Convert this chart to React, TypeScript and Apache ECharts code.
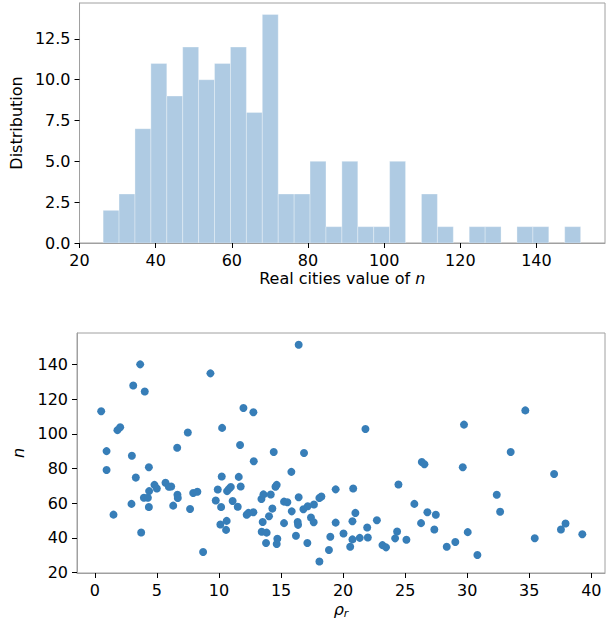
import React, { useEffect, useRef } from "react";
import * as echarts from "echarts";

// Histogram of n (30 equal bins from binStart to binEnd)
const histCounts = [2, 3, 7, 11, 9, 12, 10, 11, 12, 8, 14, 3, 3, 5, 1, 5, 1, 1, 5, 0, 3, 1, 0, 1, 1, 0, 1, 1, 0, 1];
const binStart = 26.2;
const binEnd = 151.6;
const histXTicks = [20, 40, 60, 80, 100, 120, 140];
const histYTicks = [0, 2.5, 5, 7.5, 10, 12.5];

// Scatter: rho_r vs n
const rho = [
  0.51, 3.65, 3.09, 4.02, 9.31, 1.82, 2.04, 0.94, 0.94, 2.98, 7.49, 6.63, 4.35, 3.3, 4.8, 4.99, 4.37, 3.95, 4.27, 2.95,
  4.35, 1.5, 3.73, 5.69, 5.96, 6.15, 6.65, 6.68, 6.31, 7.92, 8.26, 7.67, 8.72,
  16.42, 11.97, 12.77, 10.25, 11.7, 14.41, 16.85, 12.8, 15.83, 10.22, 11.59, 11.75, 9.9, 10.65, 10.8, 10.95, 14.55, 14.65,
  9.74, 10.17, 11.1, 11.51, 10.11, 10.62, 10.57, 12.23, 12.37, 12.77, 13.42, 13.58, 14.17, 14.3, 14.03, 13.52, 13.44, 13.84,
  13.79, 14.7, 14.65, 15.24, 15.51, 15.86, 16.42, 15.24, 16.34, 16.37, 16.2, 16.8, 17.15, 17.65,
  17.41, 17.63, 17.12, 18.09, 18.25, 19.4, 19.4, 18.97, 18.86, 18.09,
  21.8, 20.81, 20.99, 20.75, 20.03, 20.75, 20.57, 21.34, 21.99, 21.94, 22.72, 23.17, 23.46, 24.46, 24.35, 24.19, 25.1,
  25.74, 26.34, 26.55, 26.79, 27.47, 26.28, 27.35, 28.35, 29.04, 29.74, 29.64, 30.04,
  30.82, 34.68, 33.5, 37.0, 32.38, 32.65, 37.92, 37.55, 35.44, 39.27,
];
const nValues = [
  113.1, 140.2, 128.0, 124.5, 135.0, 102.2, 103.9, 90.1, 79.2, 87.4, 100.8, 92.0, 80.8, 74.8, 70.6, 68.5, 67.0, 63.2, 63.2, 59.6,
  57.8, 53.4, 43.1, 71.8, 69.5, 69.7, 64.9, 63.0, 58.6, 65.9, 66.6, 56.7, 31.8,
  151.5, 115.0, 112.5, 103.5, 93.6, 89.6, 89.0, 84.2, 78.1, 75.4, 75.2, 69.7, 67.9, 67.0, 68.3, 69.4, 69.5, 70.6,
  61.6, 57.8, 61.3, 58.0, 47.7, 49.8, 44.6, 53.3, 54.4, 54.8, 62.4, 65.1, 65.0, 56.9, 52.5, 49.2, 43.5, 43.0,
  37.0, 39.5, 36.4, 60.9, 60.6, 55.3, 63.4, 48.5, 49.2, 47.5, 41.2, 56.5, 58.2, 59.3,
  51.7, 49.0, 37.0, 63.0, 63.9, 68.0, 48.8, 40.6, 33.0, 26.3,
  102.9, 68.5, 54.4, 49.6, 42.5, 39.1, 34.9, 40.0, 40.2, 46.0, 50.2, 35.8, 34.5, 70.8, 43.7, 39.7, 38.9,
  59.6, 83.8, 82.5, 54.8, 53.3, 48.5, 44.8, 34.9, 37.6, 105.4, 80.8, 43.3,
  30.1, 113.6, 89.6, 76.9, 64.9, 55.1, 48.3, 44.8, 39.8, 42.1,
];
const scatterXTicks = [0, 5, 10, 15, 20, 25, 30, 35, 40];
const scatterYTicks = [20, 40, 60, 80, 100, 120, 140];

const FONT = "DejaVu Sans";
const SPINE = "#a0a0a0";

function axisCommon(ticks: number[], fmt?: (v: number) => string) {
  return {
    axisLine: { show: true, onZero: false, lineStyle: { color: SPINE, width: 1 } },
    axisTick: { show: true, length: 5, lineStyle: { color: "#000", width: 1 }, customValues: ticks },
    axisLabel: {
      customValues: ticks,
      color: "#000",
      fontSize: 16,
      fontFamily: FONT,
      margin: 9,
      formatter: fmt ? (v: number) => fmt(v) : (v: number) => String(v),
    },
    splitLine: { show: false },
    nameLocation: "middle" as const,
    z: 3,
  };
}

export default function App() {
  const ref = useRef<HTMLDivElement>(null);
  useEffect(() => {
    if (!ref.current) return;
    const chart = echarts.init(ref.current, undefined, { renderer: "svg" });
    const w = (binEnd - binStart) / histCounts.length;
    const histData = histCounts
      .map((c, i) => [binStart + i * w, binStart + (i + 1) * w, c])
      .filter((d) => d[2] > 0);
    const option: any = {
      animation: false,
      backgroundColor: "#fff",
      grid: [
        { left: 77, top: 3, width: 528, height: 240, show: true, borderColor: SPINE, borderWidth: 1, backgroundColor: "transparent" },
        { left: 77, top: 333, width: 528, height: 240, show: true, borderColor: SPINE, borderWidth: 1, backgroundColor: "transparent" },
      ],
      xAxis: [
        {
          type: "value",
          gridIndex: 0,
          min: 20,
          max: 158,
          ...axisCommon(histXTicks),
          name: "Real cities value of {i|n}",
          nameGap: 27,
          nameTextStyle: {
            color: "#000",
            fontSize: 16,
            fontFamily: FONT,
            rich: { i: { fontStyle: "italic", fontSize: 16, fontFamily: FONT, color: "#000" } },
          },
        },
        {
          type: "value",
          gridIndex: 1,
          min: -1.44,
          max: 41.1,
          ...axisCommon(scatterXTicks),
          name: "{a|ρ}{b|r}",
          nameGap: 27,
          nameTextStyle: {
            color: "#000",
            fontSize: 16,
            fontFamily: FONT,
            rich: {
              a: { fontStyle: "italic", fontSize: 16, fontFamily: FONT, color: "#000" },
              b: { fontStyle: "italic", fontSize: 11, fontFamily: FONT, color: "#000", padding: [8, 0, 0, 0] },
            },
          },
        },
      ],
      yAxis: [
        {
          type: "value",
          gridIndex: 0,
          min: 0,
          max: 14.7,
          ...axisCommon(histYTicks, (v) => v.toFixed(1)),
          name: "Distribution",
          nameGap: 49,
          nameTextStyle: { color: "#000", fontSize: 16, fontFamily: FONT },
        },
        {
          type: "value",
          gridIndex: 1,
          min: 19.7,
          max: 158.3,
          ...axisCommon(scatterYTicks),
          name: "{i|n}",
          nameGap: 46,
          nameTextStyle: {
            color: "#000",
            fontSize: 16,
            fontFamily: FONT,
            rich: { i: { fontStyle: "italic", fontSize: 16, fontFamily: FONT, color: "#000" } },
          },
        },
      ],
      series: [
        {
          type: "custom",
          xAxisIndex: 0,
          yAxisIndex: 0,
          data: histData,
          renderItem: (params: any, api: any) => {
            const p0 = api.coord([api.value(0), api.value(2)]);
            const p1 = api.coord([api.value(1), 0]);
            return {
              type: "rect",
              shape: { x: p0[0], y: p0[1], width: p1[0] - p0[0], height: p1[1] - p0[1] },
              style: { fill: "#afcbe3", stroke: "rgba(255,255,255,0.3)", lineWidth: 1 },
            };
          },
        },
        {
          type: "scatter",
          xAxisIndex: 1,
          yAxisIndex: 1,
          data: rho.map((r, i) => [r, nValues[i]]),
          symbolSize: 8,
          itemStyle: { color: "#377eb8", opacity: 1 },
        },
      ],
    };
    chart.setOption(option);
    return () => chart.dispose();
  }, []);
  return <div ref={ref} style={{ position: "fixed", left: 0, top: 0, width: 611, height: 622 }} />;
}
